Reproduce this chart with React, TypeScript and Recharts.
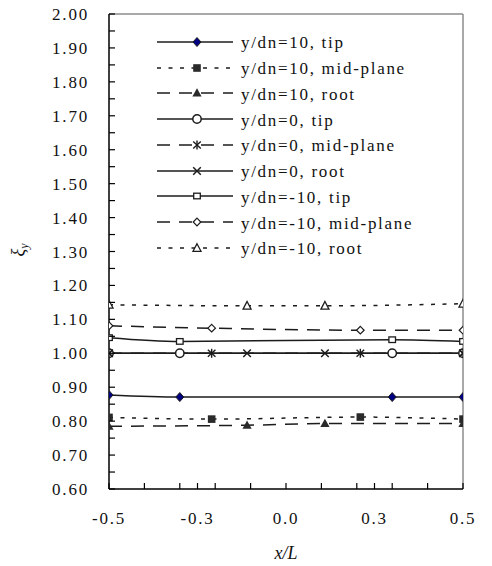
import React from 'react';
import { LineChart, Line, XAxis, YAxis, ReferenceLine, Legend } from 'recharts';

// Streamwise positions of the measurement points for each spanwise station
const xTipPositions = [-0.5, -0.3, 0.3, 0.5];
const xMidPositions = [-0.5, -0.21, 0.21, 0.5];
const xRootPositions = [-0.5, -0.11, 0.11, 0.5];

// ξy values per location
const tip10 = [0.877, 0.871, 0.871, 0.871];
const mid10 = [0.811, 0.806, 0.812, 0.806];
const root10 = [0.785, 0.788, 0.793, 0.793];
const tip0 = [1.0, 1.0, 1.0, 1.0];
const mid0 = [1.0, 1.0, 1.0, 1.0];
const root0 = [1.0, 1.0, 1.0, 1.0];
const tipMinus10 = [1.046, 1.035, 1.04, 1.035];
const midMinus10 = [1.081, 1.074, 1.068, 1.068];
const rootMinus10 = [1.143, 1.14, 1.14, 1.146];

const seriesNames = [
  'y/dn=10, tip',
  'y/dn=10, mid-plane',
  'y/dn=10, root',
  'y/dn=0, tip',
  'y/dn=0, mid-plane',
  'y/dn=0, root',
  'y/dn=-10, tip',
  'y/dn=-10, mid-plane',
  'y/dn=-10, root',
];

// Axis ticks
const xTicks = [-0.5, -0.4, -0.3, -0.25, -0.2, -0.1, 0, 0.1, 0.2, 0.25, 0.3, 0.4, 0.5];
const xLabelTicks = [-0.5, -0.25, 0, 0.25, 0.5];
const xTickLabels = ['-0.5', '-0.3', '0.0', '0.3', '0.5'];
const yMajorTicks = [0.6, 0.7, 0.8, 0.9, 1.0, 1.1, 1.2, 1.3, 1.4, 1.5, 1.6, 1.7, 1.8, 1.9, 2.0];
const yMinorTicks = [0.65, 0.75, 0.85, 0.95, 1.05, 1.15, 1.25, 1.35, 1.45, 1.55, 1.65, 1.75, 1.85, 1.95];

const FONT = '"Liberation Serif", "Times New Roman", serif';
const INK = '#1c1c1c';
const DOTTED = '4 7.5';
const DASHED = '13 9';

type MarkerKind =
  | 'diamondFilled'
  | 'squareFilled'
  | 'triangleFilled'
  | 'circle'
  | 'asterisk'
  | 'cross'
  | 'squareOpen'
  | 'diamondOpen'
  | 'triangleOpen';

const series: { name: string; xs: number[]; ys: number[]; dash?: string; marker: MarkerKind }[] = [
  { name: seriesNames[0], xs: xTipPositions, ys: tip10, marker: 'diamondFilled' },
  { name: seriesNames[1], xs: xMidPositions, ys: mid10, dash: DOTTED, marker: 'squareFilled' },
  { name: seriesNames[2], xs: xRootPositions, ys: root10, dash: DASHED, marker: 'triangleFilled' },
  { name: seriesNames[3], xs: xTipPositions, ys: tip0, marker: 'circle' },
  { name: seriesNames[4], xs: xMidPositions, ys: mid0, dash: DASHED, marker: 'asterisk' },
  { name: seriesNames[5], xs: xRootPositions, ys: root0, marker: 'cross' },
  { name: seriesNames[6], xs: xTipPositions, ys: tipMinus10, marker: 'squareOpen' },
  { name: seriesNames[7], xs: xMidPositions, ys: midMinus10, dash: DASHED, marker: 'diamondOpen' },
  { name: seriesNames[8], xs: xRootPositions, ys: rootMinus10, dash: DOTTED, marker: 'triangleOpen' },
];

function Marker({ kind, cx, cy }: { kind: MarkerKind; cx: number; cy: number }) {
  switch (kind) {
    case 'diamondFilled':
      return (
        <path
          d={`M${cx},${cy - 4.5}L${cx + 4},${cy}L${cx},${cy + 4.5}L${cx - 4},${cy}Z`}
          fill="#000080"
          stroke={INK}
          strokeWidth={1}
        />
      );
    case 'squareFilled':
      return <rect x={cx - 3.8} y={cy - 3.8} width={7.6} height={7.6} fill="#2a2a2a" />;
    case 'triangleFilled':
      return <path d={`M${cx},${cy - 4.8}L${cx + 4.6},${cy + 3.6}L${cx - 4.6},${cy + 3.6}Z`} fill="#2a2a2a" />;
    case 'circle':
      return <circle cx={cx} cy={cy} r={4.2} fill="#fff" stroke={INK} strokeWidth={1.5} />;
    case 'asterisk':
      return (
        <g stroke={INK} strokeWidth={1.4}>
          <line x1={cx} y1={cy - 4.5} x2={cx} y2={cy + 4.5} />
          <line x1={cx - 3.8} y1={cy - 3.5} x2={cx + 3.8} y2={cy + 3.5} />
          <line x1={cx - 3.8} y1={cy + 3.5} x2={cx + 3.8} y2={cy - 3.5} />
        </g>
      );
    case 'cross':
      return (
        <g stroke={INK} strokeWidth={1.5}>
          <line x1={cx - 3.8} y1={cy - 3.8} x2={cx + 3.8} y2={cy + 3.8} />
          <line x1={cx - 3.8} y1={cy + 3.8} x2={cx + 3.8} y2={cy - 3.8} />
        </g>
      );
    case 'squareOpen':
      return <rect x={cx - 3.3} y={cy - 2.8} width={6.6} height={5.6} fill="#fff" stroke={INK} strokeWidth={1.3} />;
    case 'diamondOpen':
      return (
        <path
          d={`M${cx},${cy - 3.8}L${cx + 3.8},${cy}L${cx},${cy + 3.8}L${cx - 3.8},${cy}Z`}
          fill="#fff"
          stroke={INK}
          strokeWidth={1.2}
        />
      );
    case 'triangleOpen':
      return (
        <path
          d={`M${cx},${cy - 4.3}L${cx + 4},${cy + 3.3}L${cx - 4},${cy + 3.3}Z`}
          fill="#fff"
          stroke={INK}
          strokeWidth={1.3}
        />
      );
    default:
      return null;
  }
}

function XTick(props: any) {
  const { x, y, payload } = props;
  const v: number = payload.value;
  const idx = xLabelTicks.findIndex((t) => Math.abs(t - v) < 1e-9);
  return (
    <g>
      <line x1={x} y1={y} x2={x} y2={y - 6} stroke="#000" strokeWidth={1.2} />
      {idx >= 0 && (
        <text x={x} y={y + 35} textAnchor="middle" fontFamily={FONT} fontSize={17} letterSpacing={1.8} fill="#111">
          {xTickLabels[idx]}
        </text>
      )}
    </g>
  );
}

function YTick(props: any) {
  const { x, y, payload } = props;
  const v: number = payload.value;
  const isMajor = yMajorTicks.some((t) => Math.abs(t - v) < 1e-9);
  return (
    <g>
      <line x1={x} y1={y} x2={x + 6} y2={y} stroke="#000" strokeWidth={1.2} />
      {isMajor && (
        <text x={x - 20} y={y + 6} textAnchor="end" fontFamily={FONT} fontSize={17} letterSpacing={1.8} fill="#111">
          {v.toFixed(2)}
        </text>
      )}
    </g>
  );
}

function LegendBox() {
  return (
    <div style={{ fontFamily: FONT }}>
      {series.map((s) => (
        <div key={s.name} style={{ display: 'flex', alignItems: 'center', height: 25.75 }}>
          <svg width={76} height={16} style={{ display: 'block', flex: 'none' }}>
            <line x1={0} y1={8} x2={76} y2={8} stroke={INK} strokeWidth={1.5} strokeDasharray={s.dash} />
            <Marker kind={s.marker} cx={40} cy={8} />
          </svg>
          <span
            style={{
              marginLeft: 8,
              fontSize: 17,
              letterSpacing: 1.7,
              lineHeight: 1,
              whiteSpace: 'nowrap',
              color: '#111',
              position: 'relative',
              top: 1,
            }}
          >
            {s.name}
          </span>
        </div>
      ))}
    </div>
  );
}

export default function App() {
  return (
    <div style={{ width: 492, height: 566, margin: '-8px 0 0 -8px' }}>
      <LineChart width={492} height={566} margin={{ top: 14, right: 29, bottom: 0, left: 0 }}>
        <XAxis
          type="number"
          dataKey="x"
          domain={[-0.5, 0.5]}
          ticks={xTicks}
          interval={0}
          tickSize={0}
          tickMargin={0}
          tickLine={false}
          tick={<XTick />}
          height={77}
          axisLine={{ stroke: '#000', strokeWidth: 1.5 }}
          allowDataOverflow
          label={{
            content: () => (
              <text x={286} y={559} textAnchor="middle" fontFamily={FONT} fontSize={18} fontStyle="italic" fill="#111">
                x/L
              </text>
            ),
          }}
        />
        <YAxis
          type="number"
          domain={[0.6, 2.0]}
          ticks={[...yMajorTicks, ...yMinorTicks].sort((a, b) => a - b)}
          interval={0}
          tickSize={0}
          tickMargin={0}
          tickLine={false}
          tick={<YTick />}
          width={109}
          axisLine={{ stroke: '#000', strokeWidth: 1.5 }}
          allowDataOverflow
          label={{
            content: () => (
              <text
                x={24}
                y={250}
                transform="rotate(-90, 24, 250)"
                textAnchor="middle"
                fontFamily={FONT}
                fontSize={18}
                fontStyle="italic"
                fill="#111"
              >
                ξ
                <tspan fontSize={12} dy={4}>
                  y
                </tspan>
              </text>
            ),
          }}
        />
        <ReferenceLine y={2.0} stroke="#8c8c8c" strokeWidth={1.5} />
        <ReferenceLine x={0.5} stroke="#8c8c8c" strokeWidth={1.5} />
        {series.map((s) => (
          <Line
            key={s.name}
            name={s.name}
            data={s.xs.map((x, i) => ({ x, y: s.ys[i] }))}
            dataKey="y"
            type="monotone"
            stroke={INK}
            strokeWidth={1.5}
            strokeDasharray={s.dash}
            isAnimationActive={false}
            dot={(p: any) => (
              <g key={`${s.name}-${p.index}`}>
                <Marker kind={s.marker} cx={p.cx} cy={p.cy} />
              </g>
            )}
            activeDot={false}
          />
        ))}
        <Legend
          layout="horizontal"
          verticalAlign="middle"
          align="center"
          content={() => <LegendBox />}
          wrapperStyle={{ left: 157, top: 29, width: 290 }}
        />
      </LineChart>
    </div>
  );
}
